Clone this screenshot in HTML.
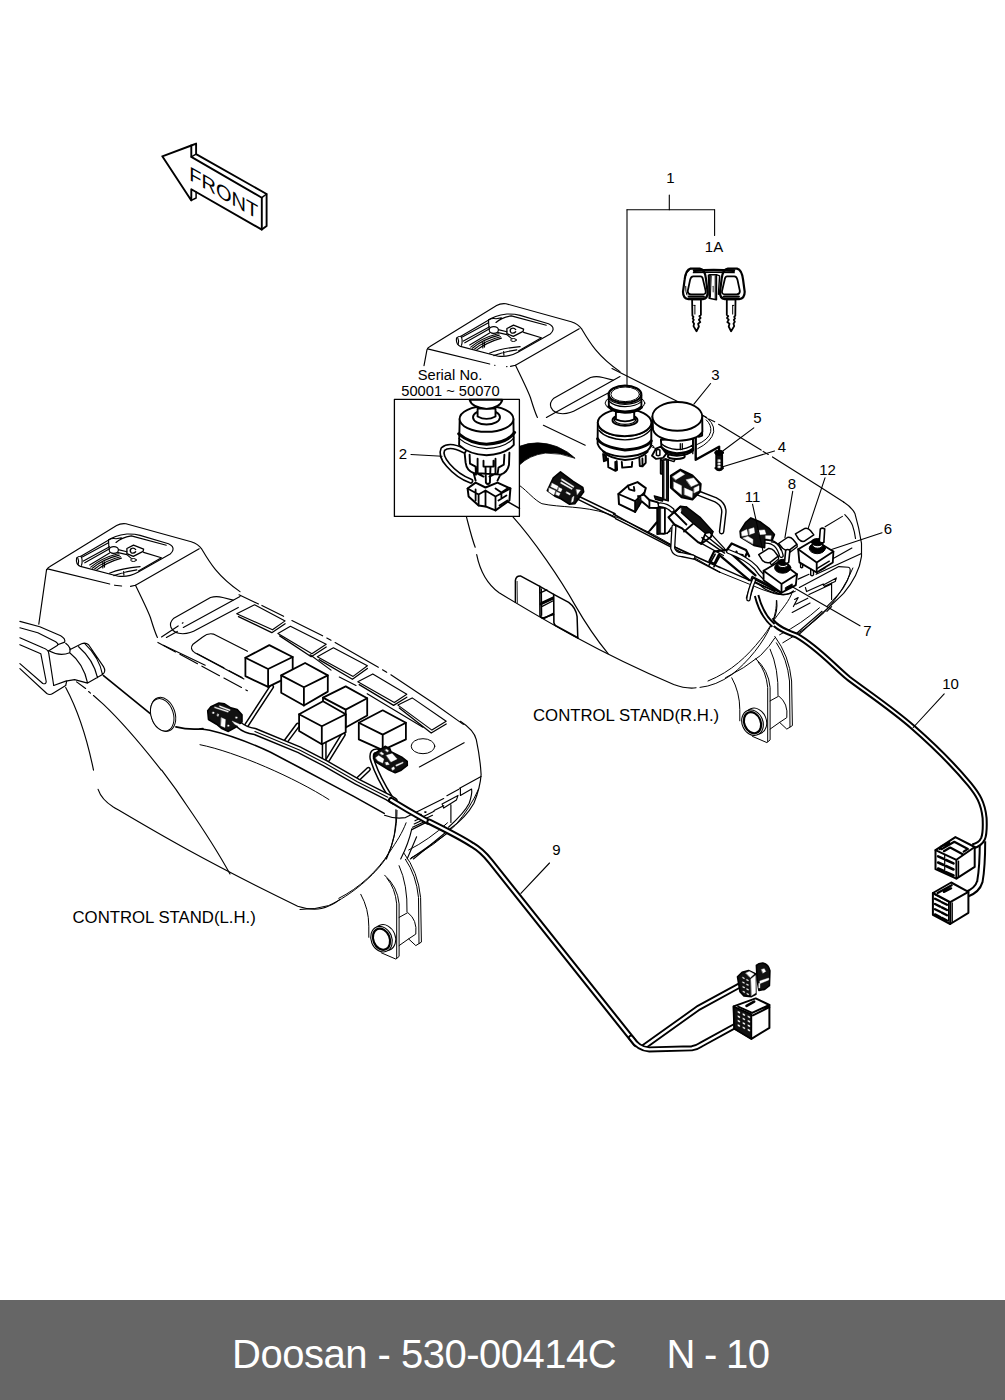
<!DOCTYPE html>
<html><head><meta charset="utf-8"><title>Doosan - 530-00414C N - 10</title>
<style>
html,body{margin:0;padding:0;background:#fff;}
body{width:1005px;height:1400px;position:relative;overflow:hidden;font-family:"Liberation Sans",sans-serif;}
svg{position:absolute;left:0;top:0;}
svg text{font-family:"Liberation Sans",sans-serif;fill:#000;}
.footer{position:absolute;left:0;top:1300px;width:1005px;height:100px;background:#666;}
.footer span{position:absolute;top:31px;font-size:40px;line-height:46px;color:#fff;white-space:pre;font-family:"Liberation Sans",sans-serif;}
</style></head><body>
<svg width="1005" height="1300" viewBox="0 0 1005 1300" stroke-linecap="round" stroke-linejoin="round">
<path d="M 424.0 365.6 L 427.0 349.7 Q 427.6 347.7 430.0 346.5 L 496.6 305.5 Q 500.6 303.1 506.0 303.7 L 571.2 321.8 Q 578.2 324.2 581.6 328.8 C 589.2 341.7 597.1 355.7 620.0 371.6" fill="none" stroke="#000" stroke-width="1.15" />
<path d="M 427.6 348.9 L 489.7 364.0 M 510.5 366.4 L 515.5 365.2 L 579.2 328.8" fill="none" stroke="#000" stroke-width="1.15" />
<path d="M 494.6 365.2 L 495.0 365.2 M 506.6 366.6 L 507.0 366.6" fill="none" stroke="#000" stroke-width="1.15" />
<path d="M 515.5 365.2 C 519.5 373.6 527.5 389.5 530.4 397.5 C 533.4 407.4 535.4 413.4 537.4 417.4" fill="none" stroke="#000" stroke-width="1.15" />
<path d="M 543.4 425.3 L 585.2 445.2" fill="none" stroke="#000" stroke-width="1.15" />
<path d="M 546.4 417.4 L 620.0 376.6" fill="none" stroke="#000" stroke-width="1.15" />
<path d="M 613.1 380.1 L 602.8 377.5 Q 596.3 375.8 590.5 377.5 L 553.4 398.6 Q 549.1 402.7 551.0 407.6 Q 553.9 413.7 562.7 413.7 Q 570.5 413.3 576.9 409.4 L 610.6 391.7" fill="none" stroke="#000" stroke-width="1.15" />
<path d="M 456.6 337.8 Q 458.2 336.2 460.9 336.2 L 488.3 320.3 Q 493.8 315.9 506.9 314.0 Q 514.6 313.8 520.1 315.4 L 548.5 323.8 Q 554.0 326.3 552.9 330.2 Q 552.3 332.4 550.2 334.0 L 517.9 352.3 Q 509.1 357.3 498.2 356.2 L 460.4 346.4 Q 455.5 344.4 456.6 337.8 Z" fill="none" stroke="#000" stroke-width="1.15" />
<path d="M 460.9 336.2 Q 463.1 339.5 461.5 345.3 M 457.7 337.8 Q 459.3 341.1 458.2 344.4" fill="none" stroke="#000" stroke-width="1.15" />
<path d="M 462.3 337.0 L 488.5 322.7 M 463.4 341.1 L 489.6 326.7 M 464.8 342.8 L 490.0 328.5 M 469.7 345.0 L 489.6 332.9" fill="none" stroke="#000" stroke-width="1.15" />
<path d="M 488.5 319.8 L 488.9 327.4 Q 489.6 331.8 493.2 333.7 M 488.5 319.8 Q 491.6 318.1 496.0 318.7 L 501.4 317.9 M 496.0 322.5 Q 501.4 317.6 511.3 315.9 L 546.3 325.2" fill="none" stroke="#000" stroke-width="1.15" />
<path d="M 506.9 328.5 L 513.5 325.2 L 523.6 329.1 L 523.1 331.3 L 513.3 336.4 L 506.9 333.7 Z M 515.7 329.6 Q 514.0 327.4 511.3 328.5 Q 509.1 330.7 511.3 332.9 Q 514.0 333.7 515.7 331.8" fill="none" stroke="#000" stroke-width="1.3" />
<path d="M 498.2 329.6 L 506.9 331.8 M 497.1 332.4 L 506.9 334.6 L 511.3 338.4" fill="none" stroke="#000" stroke-width="1.15" />
<path d="M 470.8 347.1 Q 481.7 337.8 498.2 333.7 M 472.4 348.2 Q 482.8 339.2 499.3 335.1 M 474.6 349.0 Q 485.0 340.6 500.4 336.7 M 476.8 349.9 Q 487.2 342.2 501.4 338.1" fill="none" stroke="#000" stroke-width="1.15" />
<path d="M 482.8 342.2 L 482.8 347.9 M 484.5 341.7 L 484.5 347.1 M 489.4 353.2 Q 501.4 348.2 520.1 346.6 M 493.8 355.6 Q 504.7 351.5 516.8 349.9 M 503.6 351.5 L 503.9 355.1 M 523.6 332.4 L 541.4 337.8 L 518.4 351.0" fill="none" stroke="#000" stroke-width="1.15" />
<ellipse cx="493.8" cy="330.0" rx="4.6" ry="3.4" fill="#fff" stroke="#000" stroke-width="1.2"/>
<ellipse cx="513.5" cy="340.0" rx="2.8" ry="1.5" fill="#fff" stroke="#000" stroke-width="1"/>
<path d="M 612,368.5 L 625.9,375.5 L 677.6,401.4 L 706.7,417.4 M 708.7,418.9 L 714.7,421.8 M 718.6,424.3 L 761.1,450.1 M 763.2,451.4 L 768.3,454.4 M 772.5,456.9 L 819,486.3 L 843.6,502.1" fill="none" stroke="#000" stroke-width="1.15" />
<path d="M 843.6 502.1 Q 851.9 507.5 854.9 513.4 Q 859.1 527.8 861.5 543.3 L 861.5 556.4 Q 860.3 566.0 855.5 575.5 Q 850.7 585.1 843.6 593.4 Q 836.4 600.6 826.9 609.0 L 799.4 634.0" fill="none" stroke="#000" stroke-width="1.15" />
<path d="M 844.8 514.6 Q 850.7 520.6 852.5 525.4 Q 854.9 532.5 855.5 538.5" fill="none" stroke="#000" stroke-width="1.15" />
<path d="M 832.8 558.8 L 851.9 548.1 M 798.2 579.1 L 809.0 574.3 M 816.1 574.3 L 861.5 553.4" fill="none" stroke="#000" stroke-width="1.15" />
<path d="M 799.4 587.5 L 838.8 566.6 L 848.4 567.2 Q 851.3 567.8 849.6 574.3 Q 846.0 587.5 831.6 601.8 L 826.9 606.6" fill="none" stroke="#000" stroke-width="1.15" />
<path d="M 805.4 587.5 L 806.6 591.6 L 823.3 583.9 M 823.3 585.1 L 836.4 577.9 L 835.2 581.5 L 824.5 586.3 Z M 831.6 582.7 L 831.6 599.4 M 809.0 594.6 L 831.6 583.9" fill="none" stroke="#000" stroke-width="1.15" />
<path d="M 794.6 599.4 L 798.2 597.6 L 793.4 606.6 M 795.8 604.2 L 807.8 598.2 M 792.2 612.5 L 810.1 603.0 M 776.7 600.6 Q 777.9 611.3 773.1 620.9" fill="none" stroke="#000" stroke-width="1.15" />
<path d="M 822.1 611.3 L 795.8 634.0 M 831.6 606.6 L 826.9 611.3" fill="none" stroke="#000" stroke-width="1.15" />
<path d="M 466.3 516.4 C 469.3 527.8 472.2 539.7 475.2 547.2" fill="none" stroke="#000" stroke-width="1.15" />
<path d="M 476.7 554.6 C 479.7 569.6 485.7 583.0 499.1 592.8 C 539.4 617.3 599.1 653.1 673.7 684.5 Q 685.7 689.0 696.1 687.8" fill="none" stroke="#000" stroke-width="1.15" />
<path d="M 512.5 516.4 C 533.4 539.7 560.3 578.5 575.2 605.4 C 587.2 626.3 599.1 642.7 608.1 653.7" fill="none" stroke="#000" stroke-width="1.15" />
<path d="M 515.4 602.3 L 515.4 580.4 Q 515.9 575.7 520.4 575.9 L 539.8 586.4 L 553.7 594.3 L 568.7 602.3 Q 576.1 607.8 577.1 616.7 L 577.8 637.8" fill="none" stroke="#000" stroke-width="1.5" />
<path d="M 517.4 602.8 L 517.1 581.4" fill="none" stroke="#000" stroke-width="0.8" />
<path d="M 539.8 586.4 L 540.0 615.7 Q 542.3 619.2 545.3 617.7 L 553.7 613.2 M 553.7 594.3 L 553.9 622.7 Q 554.5 625.2 556.2 625.9 L 577.8 637.8" fill="none" stroke="#000" stroke-width="1.6" />
<path d="M 541.3 588.9 L 541.6 615.2 M 540.3 592.8 L 546.8 589.9 M 540.8 603.0 L 552.7 597.3 M 541.3 606.8 L 552.7 601.0 M 542.3 618.2 L 553.7 614.5" fill="none" stroke="#000" stroke-width="1.4" />
<path d="M 540.8 604.3 L 552.7 598.8" fill="none" stroke="#000" stroke-width="2.2" />
<path d="M 731.8 677.8 Q 739.8 692.2 739.8 709.7 L 739.8 720.8 M 752.5 736.4 L 766.9 742.6 L 770.1 739.9 L 770.1 687.4 Q 768.5 669.9 755.7 658.7 M 767.7 741.5 L 767.7 687.4 Q 766.1 671.5 758.1 661.9" fill="none" stroke="#000" stroke-width="1.0" />
<path d="M 770.1 700.9 L 778.8 696.1 Q 788.4 703.3 786.8 717.6 L 779.6 722.4 L 786.8 729.1 L 792.4 725.6 L 791.6 681.0 Q 789.2 655.5 774.8 636.4 M 770.1 729.1 L 779.6 722.4 M 778.0 695.4 Q 778.8 668.3 770.1 649.2 M 790.0 726.9 L 789.5 681.0 Q 787.3 658.7 776.4 642.8" fill="none" stroke="#000" stroke-width="1.0" />
<ellipse cx="755.7" cy="721.1" rx="10.6" ry="13.3" fill="#fff" stroke="#000" stroke-width="1.0" transform="rotate(-22 755.7 721.1)"/>
<ellipse cx="752.5" cy="722.7" rx="10.4" ry="13.1" fill="#fff" stroke="#000" stroke-width="1.1" transform="rotate(-22 752.5 722.7)"/>
<ellipse cx="752.5" cy="722.7" rx="8.2" ry="10.9" fill="#fff" stroke="#000" stroke-width="2.2" transform="rotate(-22 752.5 722.7)"/>
<path d="M 700.0 687.4 Q 715.9 685.8 731.8 674.6 C 747.8 661.9 763.7 642.8 771.7 623.7 C 775.6 614.1 776.4 607.8 776.4 600.6" fill="none" stroke="#000" stroke-width="1.0" />
<path d="M 708.0 681.0 C 731.8 671.5 747.8 655.5 760.5 639.6 C 766.9 631.7 770.9 625.3 772.5 622.1 M 774.8 618.9 C 782.8 607.8 789.2 601.4 792.4 591.8" fill="none" stroke="#000" stroke-width="1.0" />
<path d="M 725.5 677.8 Q 744.6 668.3 760.5 655.5 Q 770.1 646.0 774.8 638.0 M 782.8 642.8 Q 805.1 630.1 824.2 612.5 Q 843.3 591.8 852.9 568.0 M 779.6 634.8 Q 801.9 623.7 819.4 607.8" fill="none" stroke="#000" stroke-width="1.0" />
<path d="M 751.8 586.3 L 747.8 599.0" fill="none" stroke="#000" stroke-width="4.5" stroke-linecap="butt"/>
<path d="M 751.8 586.3 L 747.8 599.0" fill="none" stroke="#fff" stroke-width="2.0" stroke-linecap="square"/>
<path d="M 982.5 841.3 C 982.5 854.3 982.0 869.8 979.9 881.4 Q 977.3 890.5 966.2 894.4" fill="none" stroke="#000" stroke-width="7.4" stroke-linecap="butt"/>
<path d="M 982.5 841.3 C 982.5 854.3 982.0 869.8 979.9 881.4 Q 977.3 890.5 966.2 894.4" fill="none" stroke="#fff" stroke-width="3.4" stroke-linecap="square"/>
<path d="M 770.9 618.8 C 773.5 626.6 789.0 633.0 796.7 635.6 C 817.4 647.3 833.0 665.4 848.5 678.3 C 869.2 693.8 892.5 709.4 913.2 727.5 C 933.9 745.6 954.6 766.3 969.6 784.4 C 977.9 794.7 983.0 802.5 984.6 818.0 C 985.1 828.4 984.1 836.1 983.0 838.7 Q 980.4 844.4 972.7 846.5" fill="none" stroke="#000" stroke-width="6.0" stroke-linecap="butt"/>
<path d="M 770.9 618.8 C 773.5 626.6 789.0 633.0 796.7 635.6 C 817.4 647.3 833.0 665.4 848.5 678.3 C 869.2 693.8 892.5 709.4 913.2 727.5 C 933.9 745.6 954.6 766.3 969.6 784.4 C 977.9 794.7 983.0 802.5 984.6 818.0 C 985.1 828.4 984.1 836.1 983.0 838.7 Q 980.4 844.4 972.7 846.5" fill="none" stroke="#fff" stroke-width="1.9" stroke-linecap="square"/>
<path d="M 756.6 595.5 C 760.5 611.0 765.7 618.8 773.5 625.3" fill="none" stroke="#000" stroke-width="5.5" stroke-linecap="butt"/>
<path d="M 756.6 595.5 C 760.5 611.0 765.7 618.8 773.5 625.3" fill="none" stroke="#fff" stroke-width="1.6" stroke-linecap="square"/>
<path d="M 935.5 850.2 L 955.4 837.1 L 974.7 847.0 L 974.7 866.9 L 956.4 878.6 L 935.5 869.2 Z" fill="#fff" stroke="#000" stroke-width="2.0" />
<path d="M 935.5 850.2 L 956.4 859.8 L 974.7 847.0 M 956.4 859.8 L 956.4 878.6" fill="none" stroke="#000" stroke-width="2.0" />
<path d="M 958.5 861.1 L 958.5 877.3" fill="none" stroke="#000" stroke-width="1.4" />
<path d="M 941.8 849.1 L 954.3 841.8 L 967.9 848.9 L 963.7 851.7 M 939.7 849.1 L 941.3 846.5 L 949.1 842.8 M 943.9 851.2 L 950.2 847.5 L 962.7 854.3" fill="none" stroke="#000" stroke-width="2.2" />
<path d="M 938.1 856.4 L 943.7 858.9 M 946.0 860.0 L 953.5 863.4" fill="none" stroke="#000" stroke-width="2.6" />
<path d="M 938.1 862.5 L 943.7 865.0 M 946.0 866.0 L 953.5 869.5" fill="none" stroke="#000" stroke-width="2.6" />
<path d="M 938.1 868.5 L 943.7 871.0 M 946.0 872.1 L 953.5 875.5" fill="none" stroke="#000" stroke-width="2.6" />
<path d="M 944.7 854.3 L 944.7 873.1" fill="none" stroke="#000" stroke-width="1.2" />
<path d="M 932.9 893.0 L 951.2 882.5 L 968.4 891.9 L 968.4 912.8 L 950.2 924.0 L 932.9 914.9 Z" fill="#fff" stroke="#000" stroke-width="2.0" />
<path d="M 932.9 893.0 L 950.2 902.1 L 968.4 891.9 M 950.2 902.1 L 950.2 924.0" fill="none" stroke="#000" stroke-width="2.0" />
<path d="M 952.2 902.9 L 952.2 922.2" fill="none" stroke="#000" stroke-width="1.4" />
<path d="M 937.6 893.0 L 951.7 885.2 M 943.9 891.9 L 951.2 888.3" fill="none" stroke="#000" stroke-width="2.2" />
<path d="M 935.0 894.6 L 948.6 901.9 L 948.6 921.2" fill="none" stroke="#000" stroke-width="1.2" />
<path d="M 935.0 898.7 L 940.2 901.3 M 941.8 902.2 L 947.0 904.8" fill="none" stroke="#000" stroke-width="2.4" />
<path d="M 935.0 904.0 L 940.2 906.6 M 941.8 907.4 L 947.0 910.0" fill="none" stroke="#000" stroke-width="2.4" />
<path d="M 935.0 909.2 L 940.2 911.8 M 941.8 912.6 L 947.0 915.2" fill="none" stroke="#000" stroke-width="2.4" />
<path d="M 935.0 914.4 L 940.2 917.0 M 941.8 917.9 L 947.0 920.5" fill="none" stroke="#000" stroke-width="2.4" />
<path d="M 702.7 415.4 Q 714.7 421.8 713.7 431.8 Q 711.7 441.7 697.7 448.7 M 706.2 419.9 Q 711.7 424.8 710.7 431.8 Q 708.7 439.8 696.7 444.7" fill="none" stroke="#000" stroke-width="1.0" />
<path d="M 645.0 433.8 Q 646.0 441.7 654.0 446.7 M 645.0 441.7 Q 649.0 446.7 655.9 448.7" fill="none" stroke="#000" stroke-width="1.0" />
<path d="M 603.1 454.0 L 603.9 461.2 L 606.3 460.4 L 605.9 455.6 Z" fill="#222" stroke="#000" stroke-width="1.9" />
<path d="M 607.9 458.4 L 608.3 467.2 L 615.5 470.8 L 617.1 470.0 L 616.7 461.2 M 615.5 470.8 L 615.3 462.0" fill="#fff" stroke="#000" stroke-width="1.9" />
<path d="M 621.8 462.0 L 622.2 467.6 L 631.8 466.8 L 632.2 462.0" fill="#fff" stroke="#000" stroke-width="1.9" />
<path d="M 639.4 458.8 L 639.8 466.0 L 642.5 466.4 L 645.7 462.8 L 645.7 455.6 M 642.5 466.4 L 642.4 458.4" fill="#fff" stroke="#000" stroke-width="1.9" />
<path d="M 603.1 451.7 Q 609.9 458.8 625.0 460.0 Q 641.0 459.2 647.7 451.7" fill="#fff" stroke="#000" stroke-width="1.9" />
<path d="M 597.8 422.2 L 597.6 443.7 Q 599.6 449.3 605.9 452.9 Q 613.9 456.4 625.0 456.8 Q 639.4 456.0 647.3 450.9 Q 650.9 447.7 651.3 443.7 L 651.3 422.2 Z" fill="#fff" stroke="#000" stroke-width="1.9" />
<path d="M 597.6 438.9 Q 601.9 446.9 625.0 450.1 Q 645.7 448.5 651.3 440.9" fill="none" stroke="#000" stroke-width="3.0" />
<ellipse cx="624.6" cy="422.6" rx="26.8" ry="13.5" fill="#fff" stroke="#000" stroke-width="1.9" transform="rotate(0 624.6 422.6)"/>
<path d="M 599.6 427.8 Q 605.9 435.7 625.0 436.7 Q 644.1 435.7 650.1 427.0" fill="none" stroke="#000" stroke-width="1.2" />
<path d="M 598.9 430.2 Q 605.9 438.9 625.0 439.9 Q 644.1 438.9 650.7 429.4" fill="none" stroke="#000" stroke-width="1.4" />
<ellipse cx="625.0" cy="420.2" rx="12.5" ry="5.7" fill="#fff" stroke="#000" stroke-width="1.9" transform="rotate(0 625.0 420.2)"/>
<ellipse cx="625.0" cy="419.8" rx="10.7" ry="4.6" fill="#fff" stroke="#000" stroke-width="1.2" transform="rotate(0 625.0 419.8)"/>
<path d="M 615.9 411.8 L 615.9 419.4 Q 625.0 423.4 634.2 419.4 L 634.2 411.8 Z" fill="#fff" stroke="#000" stroke-width="1.9" />
<ellipse cx="625.0" cy="403.1" rx="19.9" ry="8.4" fill="#fff" stroke="#000" stroke-width="1.0" transform="rotate(0 625.0 403.1)"/>
<path d="M 608.7 394.3 L 608.9 407.1 Q 613.9 412.2 625.0 412.6 Q 637.0 412.2 641.4 407.5 L 641.4 395.5 Z" fill="#fff" stroke="#000" stroke-width="1.9" />
<path d="M 608.9 406.7 Q 613.9 411.7 625.0 412.0 Q 637.0 411.7 641.4 407.1" fill="none" stroke="#000" stroke-width="3.2" />
<path d="M 609.5 401.5 Q 613.9 406.3 625.0 406.7 Q 636.2 406.3 641.0 401.9" fill="none" stroke="#000" stroke-width="1.2" />
<path d="M 609.3 399.1 Q 613.9 403.9 625.0 404.3 Q 636.2 403.9 641.1 399.5" fill="none" stroke="#000" stroke-width="1.2" />
<ellipse cx="625.0" cy="394.3" rx="16.3" ry="8.6" fill="#fff" stroke="#000" stroke-width="2.2" transform="rotate(0 625.0 394.3)"/>
<ellipse cx="625.2" cy="394.3" rx="14.3" ry="7.3" fill="#fff" stroke="#000" stroke-width="1.0" transform="rotate(0 625.2 394.3)"/>
<path d="M 695.7 437.8 L 695.7 459.7 L 719.1 446.7 L 719.1 450.9" fill="none" stroke="#000" stroke-width="2.4" />
<path d="M 697.7 434.3 L 702.2 432.8 L 702.2 435.6 L 698.7 436.8" fill="none" stroke="#000" stroke-width="1.8" />
<ellipse cx="676.3" cy="456.2" rx="8.5" ry="2.8" fill="#fff" stroke="#000" stroke-width="1.9" transform="rotate(0 676.3 456.2)"/>
<path d="M 660.9 439.8 L 661.7 449.7 Q 664.9 454.7 676.8 455.7 Q 688.8 455.2 693.0 450.7 L 693.0 438.8 Z" fill="#fff" stroke="#000" stroke-width="1.9" />
<path d="M 661.9 448.2 Q 666.9 452.9 676.8 453.7 Q 687.8 453.2 692.8 449.2" fill="none" stroke="#000" stroke-width="3.0" />
<path d="M 661.4 443.7 Q 666.9 448.7 676.8 449.5 Q 687.8 448.9 693.0 444.7 M 680.3 443.7 L 680.3 449.7 M 682.3 443.7 L 682.3 449.5 M 692.8 439.8 L 692.8 453.7" fill="none" stroke="#000" stroke-width="1.3" />
<path d="M 652.0 455.7 L 655.9 448.7 L 660.9 446.7 L 666.4 453.7 L 663.1 457.9 L 656.1 458.9 Z" fill="#fff" stroke="#000" stroke-width="1.9" />
<path d="M 656.4 450.2 L 656.4 455.2 Q 658.1 456.5 659.9 455.2 L 659.9 450.2 Q 658.1 448.9 656.4 450.2 Z" fill="#fff" stroke="#000" stroke-width="1.5" />
<path d="M 664.9 458.7 L 673.9 461.6 L 674.9 459.7" fill="none" stroke="#000" stroke-width="1.5" />
<path d="M 652.5 416.4 L 653.0 429.8 Q 656.9 439.8 677.3 440.9 Q 697.7 440.2 702.4 431.8 L 702.2 416.4 Z" fill="#fff" stroke="#000" stroke-width="1.9" />
<ellipse cx="677.3" cy="416.4" rx="24.9" ry="14.4" fill="#fff" stroke="#000" stroke-width="1.9" transform="rotate(0 677.3 416.4)"/>
<path d="M 660.9 459.7 L 660.9 473.6 L 663.4 473.6 L 663.4 499.5 M 666.4 459.7 L 666.4 499.5" fill="none" stroke="#000" stroke-width="2.2" />
<path d="M 662.1 461.6 L 662.1 472.6 M 664.9 461.6 L 664.9 499.5" fill="none" stroke="#333" stroke-width="1.6" />
<path d="M 716.2 454.7 L 716.2 467.6 Q 719.1 471.1 722.2 467.6 L 722.2 454.7 Z" fill="#111" stroke="#000" stroke-width="1.8" />
<path d="M 718.2 459.7 L 720.2 459.7 L 720.2 461.8 L 718.2 461.8 Z M 718.2 463.1 L 720.2 463.1 L 720.2 464.8 L 718.2 464.8 Z M 718.2 466.1 L 720.2 466.1 L 720.2 467.8 L 718.2 467.8 Z" fill="#fff" stroke="#fff" stroke-width="0.5" />
<path d="M 715.4 468.1 Q 719.1 472.6 723.0 468.1" fill="none" stroke="#000" stroke-width="2.0" />
<ellipse cx="719.1" cy="452.7" rx="4.4" ry="2.4" fill="#000" stroke="#000" stroke-width="1.0" transform="rotate(0 719.1 452.7)"/>
<path d="M 520.0 485.8 C 528.0 491.7 533.9 499.7 541.9 503.7 C 559.8 507.7 583.7 505.7 607.6 513.6 C 623.5 519.6 639.4 527.6 655.3 535.5 L 720.0 572.3" fill="none" stroke="#000" stroke-width="1.0" />
<path d="M 613.5 514.0 L 623.5 519.6 L 671.2 545.5 L 720.0 567.4" fill="none" stroke="#000" stroke-width="1.6" />
<path d="M 615.5 518.6 L 627.5 524.6 L 720.0 572.3" fill="none" stroke="#000" stroke-width="1.4" />
<path d="M 650.3 530.5 L 657.3 522.6 M 667.3 533.5 L 671.2 527.6" fill="none" stroke="#000" stroke-width="1.2" />
<path d="M 547.3 490.7 L 553.3 477.9 L 560.5 471.9 L 573.2 481.5 L 582.8 487.5 L 583.7 491.8 L 579.6 497.4 L 574.8 503.8 L 569.2 504.2 L 561.3 499.0 L 554.9 496.2 Z" fill="#111" stroke="#000" stroke-width="1.6" />
<path d="M 549.2 487.9 L 555.3 490.7 L 553.9 494.9 L 548.9 491.7 Z M 552.1 483.2 L 558.1 486.3 L 556.9 489.6 L 550.9 486.7 Z M 558.9 487.5 L 562.1 489.1 L 560.9 491.8 L 558.1 490.7 Z M 556.5 491.8 L 560.1 493.4 L 558.9 495.8 L 555.9 494.6 Z M 561.9 478.8 L 574.0 486.4 L 573.4 487.5 L 561.3 479.9 Z M 561.3 482.1 L 572.4 488.5 L 571.8 489.6 L 560.6 483.2 Z M 576.4 489.6 L 580.5 490.1 L 577.4 494.4 Z M 566.8 491.8 L 570.4 493.8 L 569.9 495.0 L 566.2 493.0 Z M 572.4 497.4 L 574.0 496.2 L 573.1 501.4 L 571.5 502.2 Z" fill="#fff" stroke="#fff" stroke-width="0.4" />
<path d="M 579.2 496.5 L 615.0 513.8 M 577.0 498.9 L 615.0 517.6" fill="none" stroke="#000" stroke-width="1.5" />
<path d="M 648.2 532.2 L 656.6 522.1 M 657.8 531.6 Q 663.7 536.4 670.3 531.0" fill="none" stroke="#000" stroke-width="1.5" />
<path d="M 657.2 507.8 L 657.2 534.0 L 664.9 533.4 L 664.9 507.8 Z" fill="#fff" stroke="#000" stroke-width="1.8" />
<path d="M 657.8 507.8 L 657.8 533.4 L 660.7 533.4 L 660.7 507.8 Z" fill="#111" stroke="#000" stroke-width="0.5" />
<path d="M 618.4 494.0 L 627.9 485.7 L 637.5 482.1 L 645.8 488.1 L 644.0 494.6 L 649.4 500.0 L 657.8 502.4 L 660.1 506.6 L 657.2 508.0 L 649.4 507.8 L 641.6 501.2 L 635.1 511.9 L 619.0 504.2 Z" fill="#fff" stroke="#000" stroke-width="2.0" />
<path d="M 618.4 494.0 L 635.1 501.2 L 635.1 511.9 M 635.1 501.2 L 644.0 492.8 M 627.9 485.7 L 629.1 489.3 L 634.5 490.8 L 633.9 486.9 M 638.1 495.8 L 638.7 506.0 M 649.4 500.0 L 649.4 507.8 M 644.0 494.6 L 639.9 495.8" fill="none" stroke="#000" stroke-width="1.8" />
<path d="M 635.7 501.8 L 641.0 497.0 L 641.3 500.6 L 636.0 510.7 Z" fill="#111" stroke="#000" stroke-width="0.5" />
<path d="M 654.2 495.8 L 662.5 498.2 L 662.5 501.2 L 655.4 499.4 Z" fill="#111" stroke="#000" stroke-width="1.2" />
<path d="M 662.5 460.0 L 662.5 499.4 L 668.5 501.2 L 668.5 460.0 Z" fill="#111" stroke="#000" stroke-width="1.0" />
<path d="M 665.2 461.2 L 665.2 498.2" fill="none" stroke="#fff" stroke-width="1.4" />
<path d="M 660.1 504.8 Q 667.3 505.4 672.1 510.1" fill="none" stroke="#000" stroke-width="5" />
<path d="M 660.1 504.8 Q 667.3 505.4 672.1 510.1" fill="none" stroke="#fff" stroke-width="2.4" />
<path d="M 696.0 492.2 L 715.1 499.6 Q 725.2 504.8 723.7 513.7 L 721.6 531.6" fill="none" stroke="#000" stroke-width="5.6" />
<path d="M 696.0 492.2 L 715.1 499.6 Q 725.2 504.8 723.7 513.7 L 721.6 531.6" fill="none" stroke="#fff" stroke-width="2.8" />
<path d="M 670.9 475.5 L 680.4 469.6 L 692.4 475.5 L 700.7 483.9 L 700.1 491.6 L 692.4 499.6 L 681.6 497.3 L 670.9 487.7 Z" fill="#111" stroke="#000" stroke-width="2.0" />
<path d="M 672.7 476.7 L 680.4 471.6 L 684.6 474.3 L 675.7 479.7 Z M 673.9 482.1 L 681.4 485.7 L 681.4 494.6 L 673.9 488.4 Z M 686.4 479.7 L 693.6 477.9 L 698.1 483.6 L 691.2 486.5 Z M 684.6 488.1 L 692.4 491.6 L 692.1 497.6 L 684.6 494.6 Z M 694.2 488.1 L 699.0 485.7 L 699.0 490.4 L 694.2 492.8 Z" fill="#fff" stroke="#fff" stroke-width="0.5" />
<path d="M 673.9 526.9 L 672.7 548.4 Q 674.5 554.6 681.6 554.6 L 693.0 557.0" fill="none" stroke="#000" stroke-width="5.2" />
<path d="M 673.9 526.9 L 672.7 548.4 Q 674.5 554.6 681.6 554.6 L 693.0 557.0" fill="none" stroke="#fff" stroke-width="2.6" />
<path d="M 668.5 517.3 L 680.4 506.6 L 686.4 507.2 L 699.6 517.3 L 712.7 531.6 L 710.9 537.0 L 701.3 543.8 L 698.4 542.4 L 681.6 528.1 L 674.5 524.5 Z" fill="#fff" stroke="#000" stroke-width="2.0" />
<path d="M 680.4 506.6 L 674.5 512.5 L 686.4 524.5 M 686.4 507.2 L 681.6 512.5 L 693.6 523.3 L 705.5 533.1 M 693.6 523.3 L 684.0 531.6 M 701.3 543.8 L 705.5 533.1 L 712.7 531.6" fill="none" stroke="#000" stroke-width="1.8" />
<path d="M 681.0 506.8 L 686.4 507.4 L 699.6 517.6 L 712.4 531.4 L 705.5 532.6 L 693.6 522.8 L 681.9 512.5 Z" fill="#111" stroke="#000" stroke-width="0.5" />
<path d="M 701.9 537.6 L 724.6 553.1 M 705.5 535.2 L 724.6 550.7 M 710.3 533.1 L 724.6 548.6 M 699.6 542.4 L 723.4 555.5" fill="none" stroke="#000" stroke-width="1.4" />
<path d="M 709.1 565.1 L 715.1 554.3 M 713.9 566.9 L 719.3 557.0" fill="none" stroke="#000" stroke-width="1.6" />
<path d="M 709.4 561.0 L 714.1 551.5 L 726.9 549.9 L 731.7 543.5 L 746.0 549.9 L 749.2 556.2 M 726.9 549.9 L 755.5 575.4 M 709.4 561.0 L 714.1 564.2 L 718.9 554.6 L 749.2 580.1 M 736.4 551.5 L 738.0 557.8 L 744.4 558.6 L 746.8 553.1 M 739.6 554.6 L 742.8 555.0" fill="none" stroke="#000" stroke-width="2.2" />
<path d="M 728.5 551.5 Q 746.0 557.8 755.5 567.4 Q 761.9 576.9 771.5 583.3" fill="none" stroke="#000" stroke-width="5" />
<path d="M 728.5 551.5 Q 746.0 557.8 755.5 567.4 Q 761.9 576.9 771.5 583.3" fill="none" stroke="#fff" stroke-width="2.4" />
<path d="M 752.1 576.4 L 781.3 591.3 L 780.1 594.3 L 750.9 579.8 Z" fill="#fff" stroke="#000" stroke-width="1.4" />
<path d="M 752.7 578.2 L 780.7 592.5" fill="none" stroke="#000" stroke-width="2.0" />
<path d="M 720,572.3 L 749.2,584.1 Q 762,590 774.6,593.7 Q 787,596 795.4,591.3" fill="none" stroke="#000" stroke-width="1.0" />
<path d="M 720,567.4 L 749.2,580.1 L 761.9,585.7 L 774.6,590.5" fill="none" stroke="#000" stroke-width="1.5" />
<path d="M 753.9 580.1 Q 749.2 591.3 748.4 599.2" fill="none" stroke="#000" stroke-width="4.5" />
<path d="M 753.9 580.1 Q 749.2 591.3 748.4 599.2" fill="none" stroke="#fff" stroke-width="2.0" />
<path d="M 765.8 541.2 Q 777.8 541.2 781.3 555.5" fill="none" stroke="#000" stroke-width="5.0" />
<path d="M 765.8 541.2 Q 777.8 541.2 781.3 555.5" fill="none" stroke="#fff" stroke-width="2.4" />
<path d="M 740.1 531.3 L 745.5 522.7 L 750.9 517.9 L 759.9 521.7 L 769.4 528.7 L 774.4 534.6 L 772.0 540.8 L 764.9 539.6 L 764.6 547.8 L 753.9 545.4 L 740.7 537.3 Z" fill="#111" stroke="#000" stroke-width="1.6" />
<path d="M 741.7 532.0 L 746.7 529.6 L 747.9 534.9 L 742.2 536.1 Z M 749.1 529.3 L 753.9 527.7 L 754.5 532.8 L 749.7 534.4 Z M 743.1 538.0 L 747.9 536.4 L 752.9 539.4 L 752.7 543.6 Z M 758.7 530.4 L 764.6 529.9 L 765.8 534.0 L 759.9 534.6 Z M 765.8 535.8 L 771.2 535.8 L 770.6 539.2 L 765.8 538.4 Z" fill="#fff" stroke="#fff" stroke-width="0.5" />
<path d="M 758.7 554.6 L 768.3 548.6 Q 771.5 548.0 774.3 551.1 L 778.2 556.2 L 769.9 562.6 Q 765.4 563.6 762.2 560.2 Z" fill="#fff" stroke="#000" stroke-width="1.5" />
<path d="M 778.6 543.5 L 787.4 537.5 Q 790.6 536.8 793.1 539.5 L 796.9 544.3 L 789.3 550.2 Q 785.8 551.1 782.6 548.3 Z" fill="#fff" stroke="#000" stroke-width="1.5" />
<path d="M 795.4 533.9 L 804.9 528.4 Q 808.1 527.7 810.6 530.8 L 813.8 534.9 L 804.1 541.3 Q 800.9 541.9 798.5 539.0 Z" fill="#fff" stroke="#000" stroke-width="1.5" />
<path d="M 769.9 562.6 L 771.5 565.0 L 778.6 559.1 L 778.2 556.2 M 789.3 550.2 L 790.3 552.1 L 797.3 546.7 L 796.9 544.3 M 771.5 541.9 Q 777.8 541.9 781.0 549.9" fill="none" stroke="#000" stroke-width="1.3" />
<path d="M 798.2 549.3 L 799.4 562.4 L 816.7 572.5 L 832.8 562.4 L 833.4 551.6 L 814.3 539.7 Z" fill="#fff" stroke="#000" stroke-width="1.8" />
<path d="M 798.2 549.3 L 816.7 562.4 L 833.4 551.6 M 816.7 562.4 L 816.7 572.5" fill="none" stroke="#000" stroke-width="1.8" />
<path d="M 800.6 563.0 L 800.6 567.2 Q 801.8 568.4 802.7 567.2 L 802.7 564.2 M 810.7 569.0 L 810.7 574.9 Q 812.3 576.5 813.5 574.9 L 813.5 570.7 M 817.3 568.4 L 829.3 561.2 M 819.7 570.7 L 825.1 567.8" fill="none" stroke="#000" stroke-width="1.4" />
<ellipse cx="817.3" cy="548.3" rx="8.1" ry="5.4" fill="#000" stroke="#000" stroke-width="1.0" transform="rotate(0 817.3 548.3)"/>
<ellipse cx="817.6" cy="545.1" rx="5.0" ry="3.1" fill="#fff" stroke="#000" stroke-width="1.0" transform="rotate(0 817.6 545.1)"/>
<ellipse cx="817.6" cy="542.1" rx="6.2" ry="3.6" fill="#000" stroke="#000" stroke-width="1.0" transform="rotate(0 817.6 542.1)"/>
<path d="M 819.3 541.5 L 820.3 529.0 Q 822.3 527.2 824.7 529.0 L 823.9 542.1 Q 821.5 543.9 819.3 541.5 Z" fill="#fff" stroke="#000" stroke-width="1.6" />
<path d="M 825.1 526.8 L 842.4 516.4" fill="none" stroke="#000" stroke-width="1.1" />
<path d="M 763.6 570.7 L 763.6 580.3 L 781.5 592.8 L 795.8 585.1 L 797.0 574.3 L 779.7 561.2 Z" fill="#fff" stroke="#000" stroke-width="1.8" />
<path d="M 763.6 570.7 L 781.5 583.9 L 797.0 574.3 M 781.5 583.9 L 781.5 592.8" fill="none" stroke="#000" stroke-width="1.8" />
<path d="M 785.7 587.5 L 792.2 583.9 L 792.2 586.9 L 785.7 590.4 Z" fill="#000" stroke="#000" stroke-width="1.0" />
<ellipse cx="782.7" cy="567.8" rx="8.1" ry="5.4" fill="#000" stroke="#000" stroke-width="1.0" transform="rotate(0 782.7 567.8)"/>
<ellipse cx="782.9" cy="564.5" rx="5.0" ry="3.1" fill="#fff" stroke="#000" stroke-width="1.0" transform="rotate(0 782.9 564.5)"/>
<ellipse cx="782.9" cy="562.4" rx="5.4" ry="3.1" fill="#000" stroke="#000" stroke-width="1.0" transform="rotate(0 782.9 562.4)"/>
<path d="M 784.5 562.4 L 785.7 550.4 Q 787.5 548.7 789.9 550.4 L 788.7 562.4 Q 786.5 564.2 784.5 562.4 Z" fill="#fff" stroke="#000" stroke-width="1.6" />
<path d="M 760.0 585.1 Q 767.2 592.2 781.5 594.6 Q 788.7 595.2 793.4 591.0" fill="none" stroke="#000" stroke-width="1.4" />
<path d="M 519.4 446.3 Q 537.3 439.2 557.2 446.7 Q 569.1 451.9 575.1 458.3 Q 561.1 452.7 545.2 453.1 Q 529.3 455.1 519.4 465.0 Z" fill="#000" stroke="#000" stroke-width="0.8" />
<rect x="394.4" y="399.4" width="125" height="117" fill="#fff" stroke="#000" stroke-width="1.3"/>
<path d="M 464.0 450.7 Q 449.7 443.2 442.9 449.1 Q 439.8 455.7 448.1 465.0 Q 457.7 476.2 470.6 481.0" fill="none" stroke="#000" stroke-width="5.6" />
<path d="M 464.0 450.7 Q 449.7 443.2 442.9 449.1 Q 439.8 455.7 448.1 465.0 Q 457.7 476.2 470.6 481.0" fill="none" stroke="#fff" stroke-width="2.4" />
<path d="M 464.6 452.7 L 465.6 462.7 Q 466.6 470.6 473.6 473.0 L 475.6 480.6 M 469.6 454.7 L 470.0 463.7 L 475.6 466.6 L 476.0 474.6 M 509.4 452.7 L 509.0 464.7 Q 507.4 472.6 500.4 474.6 L 497.5 480.6 M 504.4 454.7 L 503.8 464.7 L 498.5 467.6 L 497.5 474.6 M 477.6 458.7 L 477.6 473.6 L 483.5 476.6 M 483.5 460.7 L 483.5 466.6 L 493.5 466.6 L 493.5 460.7 M 485.5 466.6 L 485.9 482.6 Q 487.9 485.5 489.9 482.6 L 490.5 466.6 M 495.5 458.7 L 495.5 473.6 L 489.5 476.6 M 473.6 473.0 L 501.4 474.6" fill="none" stroke="#000" stroke-width="1.9" />
<path d="M 459.7 418.9 L 459.1 445.1 Q 469.6 454.7 486.5 455.3 Q 505.4 454.3 513.8 444.8 L 513.4 418.9 Z" fill="#fff" stroke="#000" stroke-width="1.9" />
<path d="M 458.7 433.8 Q 469.6 443.2 486.5 444.2 Q 507.4 443.2 514.6 432.4" fill="none" stroke="#000" stroke-width="3.0" />
<path d="M 458.9 438.4 Q 469.6 447.5 486.5 448.7 Q 506.4 447.5 513.8 437.8" fill="none" stroke="#000" stroke-width="1.2" />
<ellipse cx="486.5" cy="418.9" rx="26.9" ry="12.9" fill="#fff" stroke="#000" stroke-width="1.9" transform="rotate(0 486.5 418.9)"/>
<ellipse cx="486.5" cy="417.3" rx="13.5" ry="7.2" fill="#fff" stroke="#000" stroke-width="1.9" transform="rotate(0 486.5 417.3)"/>
<path d="M 477.6 408.5 L 477.6 416.5 Q 486.5 421.3 495.5 416.5 L 495.5 408.5 Z" fill="#fff" stroke="#000" stroke-width="1.9" />
<path d="M 469.6 399.8 Q 471.6 407.3 486.5 408.9 Q 500.4 407.7 502.4 399.8 Z" fill="#fff" stroke="#000" stroke-width="1.9" />
<path d="M 467.6 488.5 L 475.6 482.6 L 485.5 487.5 L 497.5 482.6 L 510.4 488.5 L 509.4 500.5 L 495.5 510.4 L 485.5 506.4 L 478.6 505.4 L 468.6 496.5 Z" fill="#fff" stroke="#000" stroke-width="2.0" />
<path d="M 467.6 488.5 L 478.6 494.5 L 478.6 505.4 M 478.6 494.5 L 485.5 490.5 L 485.5 506.4 M 475.6 489.5 L 475.6 500.5 M 485.5 490.5 L 495.5 496.5 L 495.5 510.4 M 495.5 496.5 L 510.4 488.5 M 495.5 488.5 L 501.4 492.5 L 507.4 488.5 M 498.5 500.5 L 506.4 495.5 M 499.5 505.4 L 507.4 500.5 M 501.4 492.5 L 501.4 498.5" fill="none" stroke="#000" stroke-width="1.8" />
<path d="M 507.4 501.5 L 519.4 508.4" fill="none" stroke="#000" stroke-width="1.6" />
<path d="M 692.1 299.4 L 692.4 315.7 L 693.5 316.9 L 692.7 318.5 L 693.8 319.9 L 692.8 321.7 L 694.1 323.7 L 693.5 326.1 L 696.5 331.3 L 698.9 326.5 L 698.1 323.7 L 700.3 322.1 L 698.9 319.7 L 700.6 318.1 L 699.3 316.1 L 700.9 314.9 L 700.9 299.4 Z" fill="#fff" stroke="#000" stroke-width="1.8" />
<path d="M 694.9 305.4 L 694.9 314.1 M 693.7 305.4 L 694.9 305.4" fill="none" stroke="#000" stroke-width="1.0" />
<path d="M 690.5 268.6 Q 685.7 269.7 684.6 279.9 L 683.0 291.8 Q 683.0 298.6 688.5 299.2 L 702.9 299.2 Q 708.0 298.4 707.6 291.8 L 705.9 278.3 Q 704.9 269.6 699.7 268.6 Z" fill="#fff" stroke="#000" stroke-width="2.2" />
<path d="M 693.3 276.3 Q 690.9 276.3 690.1 279.9 L 687.7 291.1 Q 687.7 294.4 690.9 294.4 L 702.9 294.4 Q 706.1 294.2 705.7 291.1 L 702.9 279.1 Q 702.5 276.3 700.5 276.3 Z" fill="#fff" stroke="#000" stroke-width="1.8" />
<path d="M 688.9 296.6 L 703.7 296.6" fill="none" stroke="#000" stroke-width="2.4" />
<path d="M 685.7 275.9 Q 686.1 271.9 689.3 270.4 M 686.9 295.0 Q 685.4 291.8 685.7 286.3" fill="none" stroke="#000" stroke-width="1.0" />
<path d="M 735.5 299.4 L 735.3 315.7 L 734.2 316.9 L 735.0 318.5 L 733.8 319.9 L 734.8 321.7 L 733.5 323.7 L 734.2 326.1 L 731.1 331.3 L 728.7 326.5 L 729.5 323.7 L 727.3 322.1 L 728.7 319.7 L 727.0 318.1 L 728.3 316.1 L 726.8 314.9 L 726.8 299.4 Z" fill="#fff" stroke="#000" stroke-width="1.8" />
<path d="M 732.7 305.4 L 732.7 314.1 M 733.9 305.4 L 732.7 305.4" fill="none" stroke="#000" stroke-width="1.0" />
<path d="M 737.1 268.6 Q 741.9 269.7 743.1 279.9 L 744.7 291.8 Q 744.7 298.6 739.1 299.2 L 724.8 299.2 Q 719.6 298.4 720.0 291.8 L 721.7 278.3 Q 722.8 269.6 727.9 268.6 Z" fill="#fff" stroke="#000" stroke-width="2.2" />
<path d="M 734.3 276.3 Q 736.7 276.3 737.5 279.9 L 739.9 291.1 Q 739.9 294.4 736.7 294.4 L 724.8 294.4 Q 721.6 294.2 722.0 291.1 L 724.8 279.1 Q 725.2 276.3 727.1 276.3 Z" fill="#fff" stroke="#000" stroke-width="1.8" />
<path d="M 738.7 296.6 L 724.0 296.6" fill="none" stroke="#000" stroke-width="2.4" />
<path d="M 710.0 274.7 L 716.4 274.7 L 716.4 299.8 L 709.2 298.2 Z" fill="#fff" stroke="#000" stroke-width="1.6" />
<path d="M 711.2 275.9 L 710.4 297.4 M 715.2 275.9 L 715.2 299.0" fill="none" stroke="#000" stroke-width="1.0" />
<path d="M 713.2 286.3 L 713.2 291.8" fill="none" stroke="#555" stroke-width="1.2" />
<path d="M 694.1 270.6 Q 713.2 269.7 733.9 270.6" fill="none" stroke="#000" stroke-width="2.6" />
<path d="M 693.3 272.7 Q 713.2 271.9 734.3 272.7" fill="none" stroke="#000" stroke-width="1.2" />
<path d="M 708.4 275.1 L 710.0 274.7 M 716.4 274.7 L 719.6 275.9 L 718.4 294.2 M 708.4 275.1 L 709.2 295.0" fill="none" stroke="#000" stroke-width="1.4" />
<path d="M 47.0 569.7 Q 47.6 567.7 50.0 566.5 L 116.6 525.5 Q 120.6 523.1 126.0 523.7 L 191.2 541.8 Q 198.2 544.2 201.6 548.8 C 209.2 561.7 217.1 575.7 240.0 591.6" fill="none" stroke="#000" stroke-width="1.15" />
<path d="M 47.6 568.9 L 109.7 584.0 M 130.5 586.4 L 135.5 585.2 L 199.2 548.8" fill="none" stroke="#000" stroke-width="1.15" />
<path d="M 114.6 585.2 L 121.6 586.0" fill="none" stroke="#000" stroke-width="1.15" />
<path d="M 135.5 585.2 C 139.5 593.6 147.5 609.5 150.4 617.5 C 153.4 627.4 155.4 633.4 157.4 637.4" fill="none" stroke="#000" stroke-width="1.15" />
<path d="M 163.4 645.3 L 205.2 665.2" fill="none" stroke="#000" stroke-width="1.15" />
<path d="M 166.4 637.4 L 177.3 631.4 M 183.3 627.4 L 240.0 596.6" fill="none" stroke="#000" stroke-width="1.15" />
<path d="M 233.1 600.1 L 222.8 597.5 Q 216.3 595.8 210.5 597.5 L 173.4 618.6 Q 169.1 622.7 171.0 627.6 Q 173.9 633.7 182.7 633.7 Q 190.5 633.3 196.9 629.4 L 238.3 607.4" fill="none" stroke="#000" stroke-width="1.15" />
<path d="M 76.6 557.8 Q 78.2 556.2 80.9 556.2 L 108.3 540.3 Q 113.8 535.9 126.9 534.0 Q 134.6 533.8 140.1 535.4 L 168.5 543.8 Q 174.0 546.3 172.9 550.2 Q 172.3 552.4 170.2 554.0 L 137.9 572.3 Q 129.1 577.3 118.2 576.2 L 80.4 566.4 Q 75.5 564.4 76.6 557.8 Z" fill="none" stroke="#000" stroke-width="1.15" />
<path d="M 80.9 556.2 Q 83.1 559.5 81.5 565.3 M 77.7 557.8 Q 79.3 561.1 78.2 564.4" fill="none" stroke="#000" stroke-width="1.15" />
<path d="M 82.3 557.0 L 108.5 542.7 M 83.4 561.1 L 109.6 546.7 M 84.8 562.8 L 110.0 548.5 M 89.7 565.0 L 109.6 552.9" fill="none" stroke="#000" stroke-width="1.15" />
<path d="M 108.5 539.8 L 108.9 547.4 Q 109.6 551.8 113.2 553.7 M 108.5 539.8 Q 111.6 538.1 116.0 538.7 L 121.4 537.9 M 116.0 542.5 Q 121.4 537.6 131.3 535.9 L 166.3 545.2" fill="none" stroke="#000" stroke-width="1.15" />
<path d="M 126.9 548.5 L 133.5 545.2 L 143.6 549.1 L 143.1 551.3 L 133.3 556.4 L 126.9 553.7 Z M 135.7 549.6 Q 134.0 547.4 131.3 548.5 Q 129.1 550.7 131.3 552.9 Q 134.0 553.7 135.7 551.8" fill="none" stroke="#000" stroke-width="1.3" />
<path d="M 118.2 549.6 L 126.9 551.8 M 117.1 552.4 L 126.9 554.6 L 131.3 558.4" fill="none" stroke="#000" stroke-width="1.15" />
<path d="M 90.8 567.1 Q 101.7 557.8 118.2 553.7 M 92.4 568.2 Q 102.8 559.2 119.3 555.1 M 94.6 569.0 Q 105.0 560.6 120.4 556.7 M 96.8 569.9 Q 107.2 562.2 121.4 558.1" fill="none" stroke="#000" stroke-width="1.15" />
<path d="M 102.8 562.2 L 102.8 567.9 M 104.5 561.7 L 104.5 567.1 M 109.4 573.2 Q 121.4 568.2 140.1 566.6 M 113.8 575.6 Q 124.7 571.5 136.8 569.9 M 123.6 571.5 L 123.9 575.1 M 143.6 552.4 L 161.4 557.8 L 138.4 571.0" fill="none" stroke="#000" stroke-width="1.15" />
<ellipse cx="113.8" cy="550.0" rx="4.6" ry="3.4" fill="#fff" stroke="#000" stroke-width="1.2"/>
<ellipse cx="133.5" cy="560.0" rx="2.8" ry="1.5" fill="#fff" stroke="#000" stroke-width="1"/>
<path d="M 46.6 569.3 L 38.8 624.2" fill="none" stroke="#000" stroke-width="1.15" />
<path d="M 19.9 621.4 L 39.8 626.8 L 60.7 635.8 Q 65.7 638.8 64.7 642.1 L 57.7 644.7 M 19.9 627.8 L 37.8 632.8 L 55.7 641.7 Q 58.7 643.7 57.7 645.3 L 48.8 650.7 M 19.9 637.8 L 42.8 647.7 Q 48.8 649.7 48.8 653.7 L 53.7 685.5 M 19.9 644.7 L 40.8 653.7 L 46.2 681.5 Q 46.2 684.5 42.8 683.5 L 19.9 663.6 M 19.9 668.6 L 46.8 693.5 Q 49.8 695.5 52.7 693.5 L 65.7 685.5 L 66.7 681.1" fill="none" stroke="#000" stroke-width="1.15" />
<path d="M 48.8 650.7 Q 59.7 656.7 69.7 652.7 Q 71.6 647.7 65.7 643.3 M 53.7 685.5 L 65.7 681.1 L 74.6 679.6 L 87.6 683.1 L 102.5 674.6 Q 106.5 671.6 103.5 666.6 L 88.6 644.7 Q 85.6 642.1 81.6 643.7 L 69.7 649.7 M 69.7 652.7 Q 83.6 663.6 87.6 683.1 M 78.6 646.7 Q 93.5 659.7 97.5 677.6 M 84.6 643.3 Q 99.5 657.7 102.5 674.6" fill="none" stroke="#000" stroke-width="1.15" />
<path d="M 103.5 675.6 L 151.2 714.4" fill="none" stroke="#000" stroke-width="1.7" />
<ellipse cx="163.2" cy="714.4" rx="11.9" ry="17.5" fill="#fff" stroke="#000" stroke-width="1.0" transform="rotate(-18 163.2 714.4)"/>
<ellipse cx="162.2" cy="714.8" rx="11.1" ry="16.7" fill="#fff" stroke="#000" stroke-width="1.0" transform="rotate(-18 162.2 714.8)"/>
<path d="M 76.6 681.9 L 85.6 688.5 M 88.6 691.5 L 90.5 693.1 M 93.5 695.5 L 103.5 704.4 C 123.4 723.3 143.3 747.2 161.2 770.1" fill="none" stroke="#000" stroke-width="1.15" />
<path d="M 65.7 687.5 C 79.6 713.4 87.6 741.2 93.5 770.1" fill="none" stroke="#000" stroke-width="1.15" />
<path d="M 98.1 789.4 Q 101.5 799.6 113.3 807.0 C 152.2 830.0 203.0 860.5 297.7 906.2 Q 311.2 910.6 321.4 908.5 Q 331.5 906.2 340.0 899.4" fill="none" stroke="#000" stroke-width="1.15" />
<path d="M 161.7 770.2 L 175.9 789.4 C 189.4 809.7 209.7 836.8 230.0 874.0" fill="none" stroke="#000" stroke-width="1.15" />
<path d="M 175.9 726.9 Q 189.4 730.2 203.0 728.6" fill="none" stroke="#000" stroke-width="1.6" />
<path d="M 239.0 594.8 L 258.5 604.0 M 261.9 605.4 L 283.6 616.3 M 291.9 620.5 L 322.6 635.8 M 326.8 638.0 L 331.0 640.2 M 335.1 642.5 L 378.3 667.3 M 382.5 669.8 L 386.7 672.3 M 390.9 674.8 L 434.0 703.5 L 463.3 724.4" fill="none" stroke="#000" stroke-width="1.15" />
<path d="M 310.1 654.7 L 331.0 670.1 M 339.3 677.0 L 356.0 685.4 M 367.2 693.7 L 422.9 727.2" fill="none" stroke="#000" stroke-width="1.15" />
<path d="M 247.4 651.3 L 213.4 634.1 Q 208.1 632.7 202.7 637.0 L 193.0 644.2 Q 189.4 648.8 194.4 652.4 L 243.9 678.9" fill="none" stroke="#000" stroke-width="1.15" />
<path d="M 197.3 653.8 L 242.1 677.5" fill="none" stroke="#000" stroke-width="1.15" stroke-dasharray="30 6"/>
<path d="M 236.7 613.7 L 254.6 604.8 L 285.1 620.9 L 272.5 629.8 Z" fill="none" stroke="#000" stroke-width="1.15" />
<path d="M 277.9 633.4 L 290.4 626.3 L 326.2 644.2 L 311.9 653.8 Z" fill="none" stroke="#000" stroke-width="1.15" />
<path d="M 317.3 656.7 L 333.4 647.8 L 367.4 665.7 L 353.1 676.4 Z" fill="none" stroke="#000" stroke-width="1.15" />
<path d="M 357.8 681.8 L 372.8 673.9 L 406.8 694.3 L 394.3 702.6 Z" fill="none" stroke="#000" stroke-width="1.15" />
<path d="M 397.9 705.1 L 412.2 697.9 L 446.2 721.2 L 431.9 730.1 Z" fill="none" stroke="#000" stroke-width="1.15" />
<path d="M 238.5 616.6 L 271.8 632.7 L 285.1 623.8" fill="none" stroke="#000" stroke-width="1.3" />
<path d="M 279.7 635.9 L 311.2 656.7 L 326.2 647.0" fill="none" stroke="#000" stroke-width="1.3" />
<path d="M 319.1 659.6 L 352.4 679.3 L 367.4 668.5" fill="none" stroke="#000" stroke-width="1.3" />
<path d="M 359.2 684.6 L 393.6 705.4 L 406.8 697.2" fill="none" stroke="#000" stroke-width="1.3" />
<path d="M 399.3 707.9 L 431.2 733.0 L 446.2 724.0" fill="none" stroke="#000" stroke-width="1.3" />
<path d="M 161.5 637.0 L 183.0 622.7 M 157.9 642.4 L 247.4 690.7" fill="none" stroke="#000" stroke-width="1.15" stroke-dasharray="20 5"/>
<ellipse cx="423.0" cy="746.2" rx="11.8" ry="7.5" fill="#fff" stroke="#000" stroke-width="1.0" transform="rotate(0 423.0 746.2)"/>
<path d="M 419.4 767.0 L 464.1 742.7" fill="none" stroke="#000" stroke-width="1.15" />
<path d="M 460.4 721.3 Q 473.9 730.1 476.3 739.6 Q 480.3 758.7 481.1 774.6 Q 480.3 787.4 473.9 803.3 Q 466.0 817.6 450.1 828.8 L 413.4 859.0" fill="none" stroke="#000" stroke-width="1.15" />
<path d="M 384.5 815.3 Q 394.3 819.2 405.5 817.6 L 443.7 798.5 M 446.9 795.7 L 458.8 789.3 M 459.6 788.3 L 481.1 776.6" fill="none" stroke="#000" stroke-width="1.15" />
<path d="M 460.4 788.2 L 460.4 795.4 L 471.6 789.0 Q 472.4 793.8 469.2 803.3 Q 464.4 812.9 448.5 827.2 M 442.1 804.1 L 458.0 795.4 L 456.4 800.1 L 443.7 808.1 Z M 450.9 804.9 L 450.9 822.4" fill="none" stroke="#000" stroke-width="1.15" />
<path d="M 415.0 820.8 L 434.1 811.3 M 414.2 824.0 L 432.5 815.3 M 412.6 827.2 L 427.8 820.0 M 411.8 829.6 L 426.2 822.4 M 434.1 810.5 L 443.7 805.7" fill="none" stroke="#000" stroke-width="1.2" />
<path d="M 415.4 816.8 L 416.3 816.8 M 420.1 814.5 L 421.1 814.5 M 424.9 812.1 L 425.9 812.1" fill="none" stroke="#000" stroke-width="1.6" />
<path d="M 395.9 809.7 Q 397.5 835.2 386.4 859.0 M 411.8 828.8 Q 408.7 843.1 400.7 859.0 M 407.1 859.0 L 416.6 836.8 M 410.3 859.0 L 446.9 833.6" fill="none" stroke="#000" stroke-width="1.15" />
<path d="M 360.8 894.3 Q 368.8 908.7 368.8 926.2 L 368.8 937.3 M 381.5 952.9 L 395.9 959.1 L 399.1 956.4 L 399.1 903.9 Q 397.5 886.4 384.7 875.2 M 396.7 958.0 L 396.7 903.9 Q 395.1 888.0 387.1 878.4" fill="none" stroke="#000" stroke-width="1.0" />
<path d="M 399.1 917.4 L 407.8 912.6 Q 417.4 919.8 415.8 934.1 L 408.6 938.9 L 415.8 945.6 L 421.4 942.1 L 420.6 897.5 Q 418.2 872.0 403.8 852.9 M 399.1 945.6 L 408.6 938.9 M 407.0 911.9 Q 407.8 884.8 399.1 865.7 M 419.0 943.4 L 418.5 897.5 Q 416.3 875.2 405.4 859.3" fill="none" stroke="#000" stroke-width="1.0" />
<ellipse cx="384.7" cy="937.6" rx="10.6" ry="13.3" fill="#fff" stroke="#000" stroke-width="1.0" transform="rotate(-22 384.7 937.6)"/>
<ellipse cx="381.5" cy="939.2" rx="10.4" ry="13.1" fill="#fff" stroke="#000" stroke-width="1.1" transform="rotate(-22 381.5 939.2)"/>
<ellipse cx="381.5" cy="939.2" rx="8.2" ry="10.9" fill="#fff" stroke="#000" stroke-width="2.2" transform="rotate(-22 381.5 939.2)"/>
<path d="M 300.0 909.5 Q 315.5 909.5 328.5 905.6 C 351.7 895.2 375.0 874.5 385.4 859.0 C 393.1 846.1 397.0 828.0 397.0 810.4" fill="none" stroke="#000" stroke-width="1.0" />
<path d="M 338.8 898.3 C 359.5 888.0 377.6 870.7 389.3 852.5 C 397.0 840.9 402.2 833.1 406.1 822.8" fill="none" stroke="#000" stroke-width="1.0" />
<path d="M 411.3 857.7 Q 434.5 846.1 455.2 825.4 Q 470.8 807.3 478.5 789.2 M 408.7 850.0 Q 429.4 839.6 447.5 822.8" fill="none" stroke="#000" stroke-width="1.0" />
<path d="M 271.6 686.9 L 246.6 725.1" fill="none" stroke="#000" stroke-width="5.0" />
<path d="M 271.6 686.9 L 246.6 725.1" fill="none" stroke="#fff" stroke-width="2.0" />
<path d="M 297.9 725.1 L 286.4 740.6" fill="none" stroke="#000" stroke-width="5.0" />
<path d="M 297.9 725.1 L 286.4 740.6" fill="none" stroke="#fff" stroke-width="2.0" />
<path d="M 324.2 743.0 L 324.2 760.9" fill="none" stroke="#000" stroke-width="5.0" />
<path d="M 324.2 743.0 L 324.2 760.9" fill="none" stroke="#fff" stroke-width="2.0" />
<path d="M 343.3 734.6 L 327.8 759.7" fill="none" stroke="#000" stroke-width="5.0" />
<path d="M 343.3 734.6 L 327.8 759.7" fill="none" stroke="#fff" stroke-width="2.0" />
<path d="M 368.4 769.3 L 357.6 779.5" fill="none" stroke="#000" stroke-width="5.0" />
<path d="M 368.4 769.3 L 357.6 779.5" fill="none" stroke="#fff" stroke-width="2.0" />
<path d="M 377.9 750.9 Q 370.7 750.1 371.9 758.5 Q 376.7 775.2 391.0 797.9" fill="none" stroke="#000" stroke-width="5.0" />
<path d="M 377.9 750.9 Q 370.7 750.1 371.9 758.5 Q 376.7 775.2 391.0 797.9" fill="none" stroke="#fff" stroke-width="2.0" />
<path d="M 239.4,725.1 Q 245,730 254.9,731.5 L 300,750.2 L 325.1,763.3 L 357.3,781.7 L 387.8,797.3 L 394,801" fill="none" stroke="#000" stroke-width="7.4" />
<path d="M 239.4,725.1 Q 245,730 254.9,731.5 L 300,750.2 L 325.1,763.3 L 357.3,781.7 L 387.8,797.3 L 394,801" fill="none" stroke="#fff" stroke-width="4.6" />
<path d="M 254.9,731.5 L 300,750.2 L 325.1,763.3 L 357.3,781.7 L 387.8,797.3" fill="none" stroke="#000" stroke-width="1.1" />
<path d="M 200,729 Q 205,729.5 209.7,730.2 C 235,736 255,745 270.6,752.2 L 300,767.8 L 326.9,782.1 L 353.7,796.4 L 384.2,813.4" fill="none" stroke="#000" stroke-width="1.6" />
<path d="M 200.0 744.7 C 235.8 751.8 295.5 778.1 329.0 799.6" fill="none" stroke="#000" stroke-width="1.0" />
<path d="M 245.4 657.7 L 269.3 645.1 L 292.7 657.0 L 292.7 674.9 L 268.1 686.9 L 245.4 676.1 Z" fill="#fff" stroke="#000" stroke-width="1.8" />
<path d="M 245.4 657.7 L 268.1 669.0 L 292.7 657.0 M 268.1 669.0 L 268.1 686.9" fill="none" stroke="#000" stroke-width="1.8" />
<path d="M 281.2 675.4 L 305.1 663.0 L 327.8 675.4 L 327.8 691.6 L 303.9 705.5 L 281.2 692.8 Z" fill="#fff" stroke="#000" stroke-width="1.8" />
<path d="M 281.2 675.4 L 303.9 687.3 L 327.8 675.4 M 303.9 687.3 L 303.9 705.5" fill="none" stroke="#000" stroke-width="1.8" />
<path d="M 323.0 697.6 L 345.7 686.4 L 367.2 698.3 L 367.2 715.5 L 345.7 727.5 L 323.0 715.5 Z" fill="#fff" stroke="#000" stroke-width="1.8" />
<path d="M 323.0 697.6 L 345.7 709.6 L 367.2 698.3 M 345.7 709.6 L 345.7 727.5" fill="none" stroke="#000" stroke-width="1.8" />
<path d="M 299.1 714.3 L 323.0 701.2 L 345.7 714.3 L 345.7 732.2 L 321.8 744.2 L 299.1 731.0 Z" fill="#fff" stroke="#000" stroke-width="1.8" />
<path d="M 299.1 714.3 L 321.8 726.3 L 345.7 714.3 M 321.8 726.3 L 321.8 744.2" fill="none" stroke="#000" stroke-width="1.8" />
<path d="M 358.8 722.7 L 382.7 710.3 L 405.9 722.7 L 405.9 739.4 L 382.7 750.1 L 358.8 739.4 Z" fill="#fff" stroke="#000" stroke-width="1.8" />
<path d="M 358.8 722.7 L 382.7 734.6 L 405.9 722.7 M 382.7 734.6 L 382.7 750.1" fill="none" stroke="#000" stroke-width="1.8" />
<path d="M 207.7 710.7 L 210.9 706.7 L 218.9 703.1 L 224.5 703.9 L 230.8 707.9 L 237.2 709.5 L 242.0 714.7 L 242.0 721.8 L 235.6 727.4 L 228.4 731.4 L 221.3 728.2 L 216.5 724.2 L 208.5 719.5 Z" fill="#111" stroke="#000" stroke-width="1.6" />
<path d="M 214.9 706.9 L 228.4 711.3 L 228.1 712.3 L 214.6 707.8 Z M 219.8 705.8 L 230.2 709.7 L 229.9 710.7 L 219.5 706.7 Z M 221.4 717.7 L 225.4 719.5 L 224.9 727.4 L 221.0 725.8 Z M 212.7 712.1 L 214.1 712.1 L 214.1 713.4 L 212.7 713.4 Z M 235.8 716.9 L 237.2 716.9 L 237.2 718.2 L 235.8 718.2 Z M 227.8 725.0 L 229.1 725.0 L 229.1 726.3 L 227.8 726.3 Z M 217.7 713.9 L 218.7 714.3 L 218.2 716.3 L 217.3 715.9 Z" fill="#fff" stroke="#fff" stroke-width="0.4" />
<path d="M 232.4 721.2 L 241.2 725.0 L 239.6 726.8 L 234.8 724.2 Z" fill="#fff" stroke="#fff" stroke-width="0.4" />
<path d="M 374.0 754.7 L 379.7 749.9 L 385.1 746.3 L 389.9 748.7 L 391.0 751.7 L 401.8 757.1 L 407.2 761.3 L 407.3 765.4 L 401.2 770.2 L 395.2 772.7 L 388.7 769.7 L 374.9 761.4 Z" fill="#111" stroke="#000" stroke-width="1.6" />
<path d="M 375.6 757.8 L 378.6 755.4 L 383.9 759.0 L 382.7 763.1 L 377.9 760.8 Z M 386.3 755.3 L 392.2 753.6 L 397.1 758.9 L 391.0 761.9 Z M 395.8 765.0 L 403.1 761.9 L 403.1 763.1 L 396.5 766.2 Z M 391.6 768.0 L 394.0 766.8 L 394.6 769.1 L 392.5 770.3 Z M 385.1 762.6 L 387.6 762.0 L 389.3 764.4 L 386.3 765.0 Z M 379.7 752.9 L 381.5 752.0 L 383.9 754.1 L 382.1 755.0 Z M 385.1 749.9 L 386.9 749.3 L 388.7 751.1 L 387.2 752.0 Z" fill="#fff" stroke="#fff" stroke-width="0.3" />
<path d="M 391.1 800.1 L 407.1 809.7 L 427.8 821.6" fill="none" stroke="#000" stroke-width="6.2" />
<path d="M 391.1 800.1 L 407.1 809.7 L 427.8 821.6" fill="none" stroke="#fff" stroke-width="2.3" />
<path d="M 429.5 821.8 C 447.4 830.7 461.8 837.9 472.5 845.1 Q 481.5 850.4 490.4 861.2 L 635.8 1043.8" fill="none" stroke="#000" stroke-width="6.4" />
<path d="M 429.5 821.8 C 447.4 830.7 461.8 837.9 472.5 845.1 Q 481.5 850.4 490.4 861.2 L 635.8 1043.8" fill="none" stroke="#fff" stroke-width="2.3" />
<path d="M 644.0 1046.8 L 698.3 1008.0 L 741.0 984.7" fill="none" stroke="#000" stroke-width="6.0" />
<path d="M 644.0 1046.8 L 698.3 1008.0 L 741.0 984.7" fill="none" stroke="#fff" stroke-width="2.3" />
<path d="M 631.0 1037.7 Q 638.8 1049.4 649.2 1049.4 L 691.8 1048.3 Q 696.2 1047.8 700.9 1044.7 L 737.1 1024.8" fill="none" stroke="#000" stroke-width="6.0" />
<path d="M 631.0 1037.7 Q 638.8 1049.4 649.2 1049.4 L 691.8 1048.3 Q 696.2 1047.8 700.9 1044.7 L 737.1 1024.8" fill="none" stroke="#fff" stroke-width="2.3" />
<path d="M 756.4 965.4 Q 758.6 962.9 762.9 963.0 Q 768.6 964.3 769.9 970.7 L 769.4 985.7 L 764.6 989.4 L 758.9 990.4 L 757.1 980.0 Z" fill="#111" stroke="#000" stroke-width="1.6" />
<path d="M 761.6 969.4 L 764.3 968.7 L 765.7 971.4 L 763.0 973.0 Z M 760.0 980.9 L 768.7 978.0 L 768.7 980.0 L 760.0 983.6 Z M 758.9 983.6 L 759.9 983.6 L 759.9 987.9 L 758.9 987.9 Z" fill="#fff" stroke="#fff" stroke-width="0.4" />
<path d="M 737.5 976.8 L 742.1 972.3 L 748.6 970.6 L 755.4 973.7 L 755.9 994.3 L 751.4 996.6 L 743.9 995.9 L 740.0 991.8 Z" fill="#111" stroke="#000" stroke-width="1.6" />
<path d="M 745.9 973.0 L 749.4 971.4 L 754.1 974.0 L 750.3 977.4 Z M 751.0 978.9 L 755.4 975.6 L 755.6 992.9 L 751.6 995.4 Z" fill="#fff" stroke="#fff" stroke-width="0.4" />
<path d="M 742.7 977.1 L 744.4 977.9 L 744.4 978.9 L 742.7 978.1 Z" fill="#fff" stroke="#fff" stroke-width="0.3" />
<path d="M 746.6 979.3 L 748.4 980.0 L 748.4 981.0 L 746.6 980.3 Z" fill="#fff" stroke="#fff" stroke-width="0.3" />
<path d="M 742.7 981.8 L 744.4 982.5 L 744.4 983.5 L 742.7 982.8 Z" fill="#fff" stroke="#fff" stroke-width="0.3" />
<path d="M 746.6 983.9 L 748.4 984.6 L 748.4 985.6 L 746.6 984.9 Z" fill="#fff" stroke="#fff" stroke-width="0.3" />
<path d="M 742.9 986.4 L 744.6 987.1 L 744.6 988.1 L 742.9 987.4 Z" fill="#fff" stroke="#fff" stroke-width="0.3" />
<path d="M 746.8 988.6 L 748.5 989.3 L 748.5 990.3 L 746.8 989.6 Z" fill="#fff" stroke="#fff" stroke-width="0.3" />
<path d="M 743.1 991.1 L 744.8 991.8 L 744.8 992.8 L 743.1 992.1 Z" fill="#fff" stroke="#fff" stroke-width="0.3" />
<path d="M 747.0 993.2 L 748.7 993.9 L 748.7 994.9 L 747.0 994.2 Z" fill="#fff" stroke="#fff" stroke-width="0.3" />
<path d="M 733.6 1006.4 L 755.7 998.4 L 769.4 1005.0 L 769.4 1027.9 L 751.4 1038.9 L 734.3 1028.6 Z" fill="#fff" stroke="#000" stroke-width="2.0" />
<path d="M 733.6 1006.4 L 751.4 1014.3 L 751.4 1038.9 L 734.3 1028.6 Z" fill="#111" stroke="#000" stroke-width="1.6" />
<path d="M 738.2 1006.6 L 752.1 1012.9 L 769.3 1005.0 M 752.9 1015.4 L 769.3 1007.1" fill="none" stroke="#000" stroke-width="2.0" />
<path d="M 746.6 1005.9 L 754.1 1001.6" fill="none" stroke="#000" stroke-width="2.8" />
<path d="M 738.0 1011.3 L 739.9 1012.1 L 739.9 1013.4 L 738.0 1012.6 Z" fill="#fff" stroke="#fff" stroke-width="0.3" />
<path d="M 743.0 1013.6 L 744.9 1014.4 L 744.9 1015.7 L 743.0 1014.9 Z" fill="#fff" stroke="#fff" stroke-width="0.3" />
<path d="M 748.0 1015.9 L 749.9 1016.7 L 749.9 1018.0 L 748.0 1017.1 Z" fill="#fff" stroke="#fff" stroke-width="0.3" />
<path d="M 738.0 1015.7 L 739.9 1016.6 L 739.9 1017.9 L 738.0 1017.0 Z" fill="#fff" stroke="#fff" stroke-width="0.3" />
<path d="M 743.0 1018.0 L 744.9 1018.9 L 744.9 1020.1 L 743.0 1019.3 Z" fill="#fff" stroke="#fff" stroke-width="0.3" />
<path d="M 748.0 1020.3 L 749.9 1021.1 L 749.9 1022.4 L 748.0 1021.6 Z" fill="#fff" stroke="#fff" stroke-width="0.3" />
<path d="M 738.0 1020.1 L 739.9 1021.0 L 739.9 1022.3 L 738.0 1021.4 Z" fill="#fff" stroke="#fff" stroke-width="0.3" />
<path d="M 743.0 1022.4 L 744.9 1023.3 L 744.9 1024.6 L 743.0 1023.7 Z" fill="#fff" stroke="#fff" stroke-width="0.3" />
<path d="M 748.0 1024.7 L 749.9 1025.6 L 749.9 1026.9 L 748.0 1026.0 Z" fill="#fff" stroke="#fff" stroke-width="0.3" />
<path d="M 738.0 1024.6 L 739.9 1025.4 L 739.9 1026.7 L 738.0 1025.9 Z" fill="#fff" stroke="#fff" stroke-width="0.3" />
<path d="M 743.0 1026.9 L 744.9 1027.7 L 744.9 1029.0 L 743.0 1028.1 Z" fill="#fff" stroke="#fff" stroke-width="0.3" />
<path d="M 748.0 1029.1 L 749.9 1030.0 L 749.9 1031.3 L 748.0 1030.4 Z" fill="#fff" stroke="#fff" stroke-width="0.3" />
<path d="M 162.3 156.3 L 191.3 145.5 L 191.3 156.9 L 261.8 197.7 L 261.8 229.6 L 191.3 189.3 L 191.3 200.4 Z" fill="none" stroke="#000" stroke-width="1.9" />
<path d="M 191.3 145.5 L 196.1 143.6 L 196.1 154.2 L 266.6 194.0 L 266.6 225.9 L 261.8 229.6" fill="none" stroke="#000" stroke-width="1.9" />
<path d="M 191.3 156.9 L 196.1 154.2 M 261.8 197.7 L 266.6 194.0 M 191.3 200.4 L 196.1 198.0 L 196.1 192.0" fill="none" stroke="#000" stroke-width="1.5" />
<text transform="translate(189.3,179.8) skewY(30)" font-size="20" x="0" y="0">FRONT</text>
<text x="670.5" y="182.7" font-size="15" text-anchor="middle" >1</text>
<text x="714.0" y="251.7" font-size="15" text-anchor="middle" >1A</text>
<text x="715.5" y="380.2" font-size="15" text-anchor="middle" >3</text>
<text x="757.5" y="422.7" font-size="15" text-anchor="middle" >5</text>
<text x="782.0" y="452.2" font-size="15" text-anchor="middle" >4</text>
<text x="827.5" y="475.2" font-size="15" text-anchor="middle" >12</text>
<text x="792.0" y="488.7" font-size="15" text-anchor="middle" >8</text>
<text x="752.5" y="501.7" font-size="15" text-anchor="middle" >11</text>
<text x="888.0" y="534.2" font-size="15" text-anchor="middle" >6</text>
<text x="867.5" y="636.2" font-size="15" text-anchor="middle" >7</text>
<text x="950.5" y="689.2" font-size="15" text-anchor="middle" >10</text>
<text x="556.5" y="855.2" font-size="15" text-anchor="middle" >9</text>
<text x="403.0" y="459.2" font-size="15" text-anchor="middle" >2</text>
<text x="450.0" y="379.5" font-size="14.7" text-anchor="middle" >Serial No.</text>
<text x="450.5" y="396.0" font-size="14.7" text-anchor="middle" >50001 ~ 50070</text>
<text x="533.0" y="721.3" font-size="16.75" text-anchor="start" >CONTROL STAND(R.H.)</text>
<text x="72.5" y="923.0" font-size="16.75" text-anchor="start" >CONTROL STAND(L.H.)</text>
<path d="M 669.3,195.0 L 669.3,209.7" fill="none" stroke="#000" stroke-width="1.1" />
<path d="M 627.0,209.7 L 714.6,209.7" fill="none" stroke="#000" stroke-width="1.1" />
<path d="M 627.0,209.7 L 627.0,386.0" fill="none" stroke="#000" stroke-width="1.1" />
<path d="M 714.6,209.7 L 714.6,235.5" fill="none" stroke="#000" stroke-width="1.1" />
<path d="M 710.6,383.5 L 693.9,404.2" fill="none" stroke="#000" stroke-width="1.1" />
<path d="M 753.8,427.9 L 722.8,451.0" fill="none" stroke="#000" stroke-width="1.1" />
<path d="M 774.5,451.0 L 722.8,466.7" fill="none" stroke="#000" stroke-width="1.1" />
<path d="M 825.0,477.8 L 808.0,528.8" fill="none" stroke="#000" stroke-width="1.1" />
<path d="M 792.7,491.3 L 784.9,537.8" fill="none" stroke="#000" stroke-width="1.1" />
<path d="M 752.5,504.2 L 762.9,550.8" fill="none" stroke="#000" stroke-width="1.1" />
<path d="M 882.0,532.7 L 831.5,549.5" fill="none" stroke="#000" stroke-width="1.1" />
<path d="M 860.0,625.8 L 792.7,587.0" fill="none" stroke="#000" stroke-width="1.1" />
<path d="M 944.2,693.8 L 913.2,727.5" fill="none" stroke="#000" stroke-width="1.1" />
<path d="M 549.5,863.0 L 520.9,893.4" fill="none" stroke="#000" stroke-width="1.1" />
<path d="M 411.0,454.5 L 442.0,456.3" fill="none" stroke="#000" stroke-width="1.1" />
</svg>
<div class="footer"><span id="f1" style="left:232px;letter-spacing:-0.5px;">Doosan - 530-00414C</span><span id="f2" style="left:666.5px;letter-spacing:-0.5px;word-spacing:-1.5px;">N - 10</span></div>
</body></html>
